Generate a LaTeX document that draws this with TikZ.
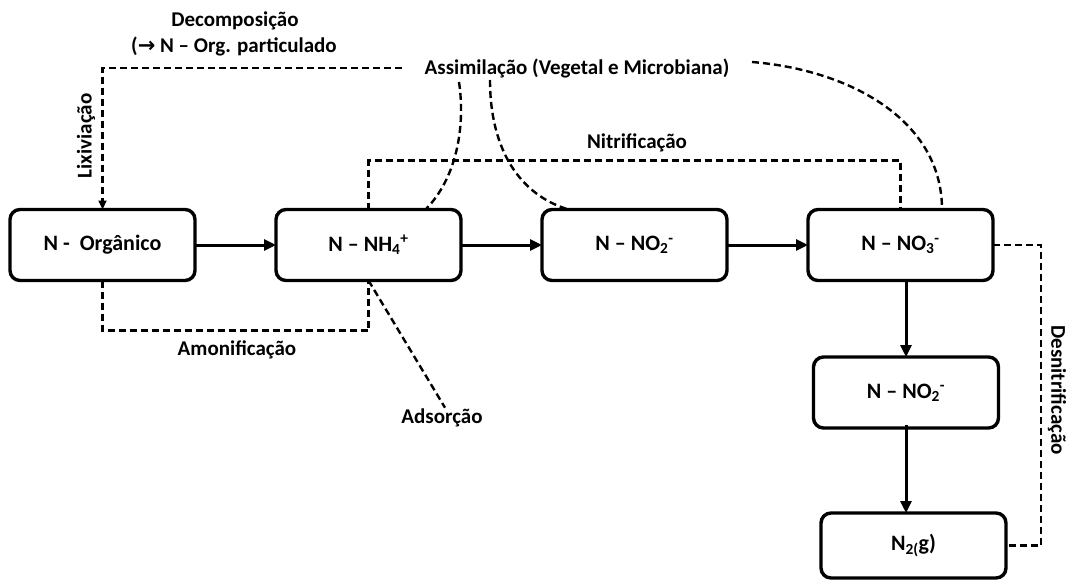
\documentclass[tikz,border=0pt]{standalone}
\usepackage{fontspec}
\setmainfont{Carlito}
\newfontfamily\arrowfont{DejaVu Sans}
\usetikzlibrary{arrows.meta,positioning}
\tikzset{
    box/.style={draw, line width=3.4pt, rounded corners=10pt, font=\fontsize{22}{26}\selectfont\bfseries,
                minimum width=185pt, minimum height=71pt, inner sep=0pt, outer sep=0pt},
    lbl/.style={inner sep=1pt},
    dsh/.style={line width=2.4pt, dash pattern=on 7pt off 4pt},
    flow/.style={line width=3pt, -{Triangle[length=12pt,width=11pt]}},
    tip/.style={-{Triangle[length=9pt,width=8pt]}}
}
\newcommand{\sbsp}[2]{\textsubscript{#1}\textsuperscript{#2}}

\begin{document}
\begin{tikzpicture}[x=1pt, y=-1pt, font=\fontsize{21}{25}\selectfont\bfseries]
\useasboundingbox (0,0) rectangle (1067,581);
\node(O) [box] at (102.5,245) {N -~~Orgânico};
\node(A) [box,right=81pt of O] {N -- NH\sbsp{4}{+}};
\node(B) [box,right=81pt of A] {N -- NO\sbsp{2}{-}};
\node(C) [box,right=81pt of B] {N -- NO\sbsp{3}{-}};
\node(D) [box] at (906,392.5) {N -- NO\sbsp{2}{-}};
\node(G) [box,minimum height=65pt] at (913.5,545.5) {N\textsubscript{2(}g)};
\draw[flow] (O) -- (A);
\draw[flow] (A) -- (B);
\draw[flow] (B) -- (C);
\draw[flow] (C.south -| D) -- (D.north);
\draw[flow] ([yshift=3pt]D.south) -- (D.south |- G.north);
\node(dec)   [lbl] at (235,21) {Decomposição};
\node(part)  [lbl] at (234,46) {({\arrowfont →} N -- Org. particulado};
\node(lix)   [lbl,rotate=90] at (86,136) {Lixiviação};
\node(assim) [lbl] at (577,68) {Assimilação (Vegetal e Microbiana)};
\node(nit)   [lbl] at (637,143) {Nitrificação};
\node(amo)   [lbl] at (237,350) {Amonificação};
\node(ads)   [lbl] at (442,418) {Adsorção};
\node(des)   [lbl,rotate=-90] at (1057,390) {Desnitrificação};
\coordinate(l0) at (402,68);
\coordinate(a1) at (459,82);
\coordinate(a2) at (490,80);
\coordinate(a3) at (752,62);
\draw[dsh,tip] (l0) -| (O.north);
\draw[dsh] (A.north) -- ++(0,-49) -| (C.north);
\draw[dsh] (a1) .. controls (466,130) and (455,180) .. ([xshift=57pt]A.north);
\draw[dsh] (a2) .. controls (490,150) and (520,195) .. ([xshift=-66pt]B.north);
\draw[dsh] (a3) .. controls (850,70) and (942,120) .. ([xshift=41.5pt]C.north);
\draw[dsh] (O.south) -- ++(0,50) -| (A.south);
\draw[dsh] (A.south) -- ([xshift=3pt]ads.north);
\draw[dsh] (C.east) -- ++(48,0) |- (G.east);
\end{tikzpicture}
\end{document}
